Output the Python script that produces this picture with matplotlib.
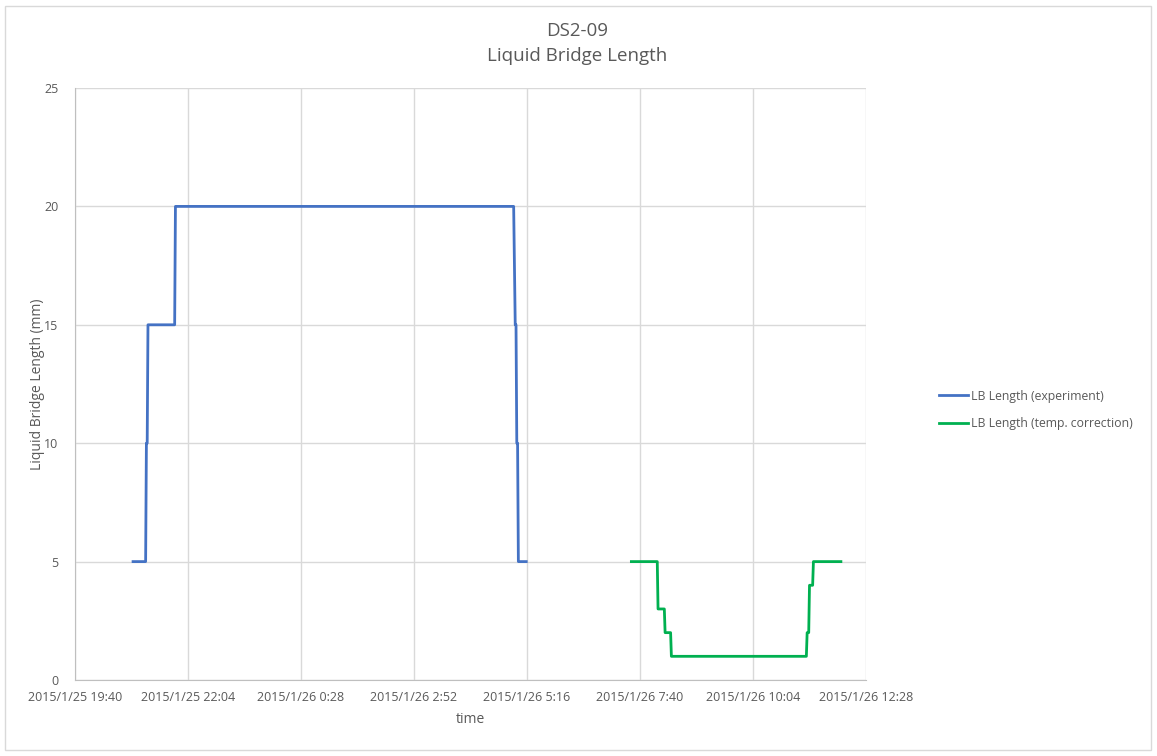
import matplotlib
matplotlib.use("Agg")
import matplotlib.pyplot as plt
import matplotlib.dates as mdates
from matplotlib.ticker import FuncFormatter, FixedLocator
from matplotlib.patches import Rectangle
import pandas as pd

plt.rcParams['font.family'] = ['Open Sans', 'DejaVu Sans']

exp_times = ["2015-01-25 20:54", "2015-01-25 21:10", "2015-01-25 21:11", "2015-01-25 21:12",
             "2015-01-25 21:13", "2015-01-25 21:47", "2015-01-25 21:48", "2015-01-26 04:59",
             "2015-01-26 05:01", "2015-01-26 05:02", "2015-01-26 05:03", "2015-01-26 05:04",
             "2015-01-26 05:05", "2015-01-26 05:15"]
exp_vals = [5, 5, 10, 10, 15, 15, 20, 20, 15, 15, 10, 10, 5, 5]

cor_times = ["2015-01-26 07:29", "2015-01-26 08:02", "2015-01-26 08:03", "2015-01-26 08:11",
             "2015-01-26 08:12", "2015-01-26 08:19", "2015-01-26 08:20", "2015-01-26 11:12",
             "2015-01-26 11:13", "2015-01-26 11:15", "2015-01-26 11:16", "2015-01-26 11:20",
             "2015-01-26 11:21", "2015-01-26 11:56"]
cor_vals = [5, 5, 3, 3, 2, 2, 1, 1, 2, 2, 4, 4, 5, 5]

x_start = "2015-01-25 19:40"
x_end = "2015-01-26 12:28"
tick_step_min = 144
y_ticks = [0, 5, 10, 15, 20, 25]

exp_t = pd.to_datetime(exp_times)
cor_t = pd.to_datetime(cor_times)
xs = pd.Timestamp(x_start)
xe = pd.Timestamp(x_end)
ticks = pd.date_range(xs, xe, freq=f"{tick_step_min}min")

W, H = 1157, 756
fig = plt.figure(figsize=(W / 100, H / 100), dpi=100)
fig.patches.append(Rectangle((5 / W, 6 / H), 1146 / W, 744 / H, transform=fig.transFigure,
                             fill=False, edgecolor='#d9d9d9', linewidth=1))
ax = fig.add_axes([75 / W, 76 / H, 791 / W, 592 / H])

ax.plot(exp_t, exp_vals, color='#4472c4', linewidth=2, label='LB Length (experiment)')
ax.plot(cor_t, cor_vals, color='#00b050', linewidth=2, label='LB Length (temp. correction)')

ax.set_xlim(mdates.date2num(xs), mdates.date2num(xe))
ax.set_ylim(0, 25)
ax.xaxis.set_major_locator(FixedLocator(mdates.date2num(ticks)))

def fmt(v, pos):
    d = mdates.num2date(v)
    return f"{d.year}/{d.month}/{d.day} {d.hour}:{d.minute:02d}"

ax.xaxis.set_major_formatter(FuncFormatter(fmt))
ax.set_yticks(y_ticks)
ax.grid(True, color='#d9d9d9', linewidth=1)
ax.set_axisbelow(True)
for s in ['top', 'right']:
    ax.spines[s].set_visible(False)
for s in ['left', 'bottom']:
    ax.spines[s].set_color('#bfbfbf')
ax.tick_params(axis='both', length=0, labelsize=9, colors='#595959', pad=8)
ax.tick_params(axis='y', pad=12)

ax.set_xlabel('time', fontsize=10, color='#595959', labelpad=6)
ax.set_ylabel('Liquid Bridge Length (mm)', fontsize=10, color='#595959', labelpad=-1)

fig.text(577 / W, 1 - 31 / H, 'DS2-09', ha='center', va='center', fontsize=13.5, color='#595959')
fig.text(577 / W, 1 - 56 / H, 'Liquid Bridge Length', ha='center', va='center', fontsize=13.5, color='#595959')

leg = ax.legend(loc='center left', bbox_to_anchor=(928 / W, 1 - 410 / H), bbox_transform=fig.transFigure,
                frameon=False, fontsize=8.8, handlelength=2.4, labelspacing=1.2, handletextpad=0.2)
for t in leg.get_texts():
    t.set_color('#595959')

fig.savefig('out.png', dpi=100)
